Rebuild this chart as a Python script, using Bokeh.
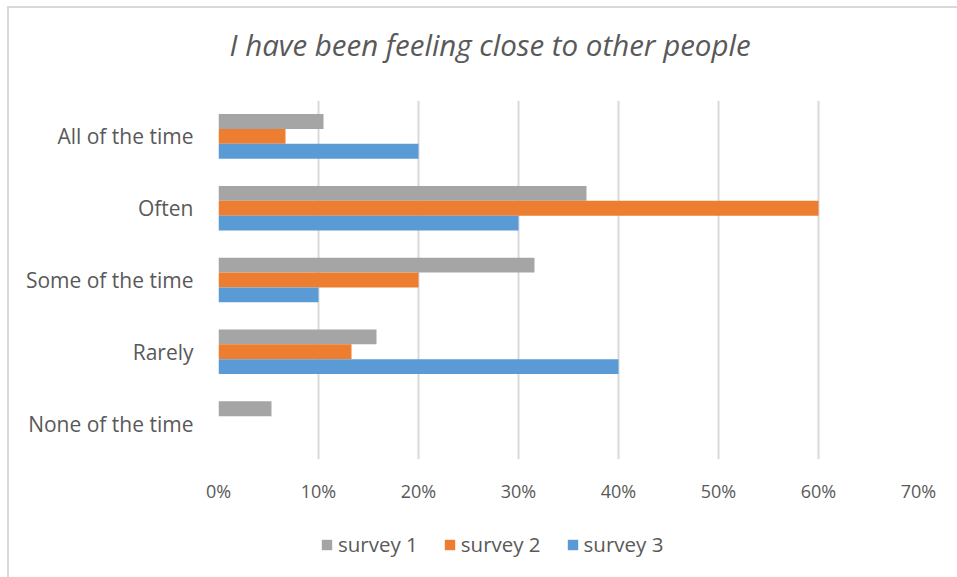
from bokeh.plotting import figure
from bokeh.layouts import column
from bokeh.models import (ColumnDataSource, Range1d, FixedTicker, NumeralTickFormatter,
                          Legend, LegendItem, Title)
from bokeh.transform import dodge
from bokeh.embed import file_html
from bokeh.resources import INLINE

categories = ["None of the time", "Rarely", "Some of the time", "Often", "All of the time"]
survey1 = [0.053, 0.158, 0.316, 0.368, 0.105]
survey2 = [0.0, 0.133, 0.20, 0.60, 0.067]
survey3 = [0.0, 0.40, 0.10, 0.30, 0.20]
x_ticks = [0, 0.1, 0.2, 0.3, 0.4, 0.5, 0.6, 0.7]
series_names = ["survey 1", "survey 2", "survey 3"]
colors = ["#A5A5A5", "#ED7D31", "#5B9BD5"]

FONT = "Open Sans"
TXT = "#595959"

src = ColumnDataSource(dict(pos=list(range(len(categories))), s1=survey1, s2=survey2, s3=survey3))
value_cols = ["s1", "s2", "s3"]

W = 948

# title strip
p0 = figure(width=W, height=92, output_backend="svg", toolbar_location=None,
            x_range=Range1d(0, 1), y_range=Range1d(0, 1),
            x_axis_type=None, y_axis_type=None,
            min_border_left=0, min_border_right=0, min_border_top=0, min_border_bottom=0)
p0.outline_line_color = None
p0.grid.grid_line_color = None
p0.background_fill_color = "white"
p0.border_fill_color = "white"
title = Title(text="I have been feeling close to other people", align="left", offset=11,
              vertical_align="bottom", standoff=27,
              text_font=FONT, text_font_style="italic", text_font_size="29.5px",
              text_color=TXT)
p0.add_layout(title, "above")

# main chart
p = figure(width=W, height=419, output_backend="svg", toolbar_location=None,
           x_range=Range1d(0, 0.7), y_range=Range1d(-0.5, len(categories) - 0.5),
           min_border_left=209, min_border_right=39, min_border_top=0, min_border_bottom=60)
p.outline_line_color = None
p.background_fill_color = "white"
p.border_fill_color = "white"

bw = 0.207
offsets = [bw, 0, -bw]
for col, off, c in zip(value_cols, offsets, colors):
    p.hbar(y=dodge("pos", off, range=p.y_range), right=col, left=0, height=bw, source=src,
           color=c, line_color=None)

p.xaxis.ticker = FixedTicker(ticks=x_ticks)
p.xaxis.formatter = NumeralTickFormatter(format="0%")
p.xaxis.axis_line_color = None
p.xaxis.major_tick_line_color = None
p.xaxis.minor_tick_line_color = None
p.xaxis.major_label_standoff = 13
p.xaxis.major_label_text_font = FONT
p.xaxis.major_label_text_font_size = "18px"
p.xaxis.major_label_text_color = TXT

p.yaxis.ticker = FixedTicker(ticks=list(range(len(categories))))
p.yaxis.major_label_overrides = {i: c for i, c in enumerate(categories)}
p.yaxis.axis_line_color = None
p.yaxis.major_tick_line_color = None
p.yaxis.minor_tick_line_color = None
p.yaxis.major_label_standoff = 19
p.yaxis.major_label_text_font = FONT
p.yaxis.major_label_text_font_size = "21px"
p.yaxis.major_label_text_color = TXT

p.ygrid.grid_line_color = None
p.xgrid.ticker = FixedTicker(ticks=x_ticks)
p.xgrid.grid_line_color = "#D9D9D9"
p.xgrid.grid_line_width = 2

# legend strip (same data, kept outside its visible ranges; only the legend shows)
p2 = figure(width=W, height=59, output_backend="svg", toolbar_location=None,
            x_range=Range1d(2, 3), y_range=Range1d(10, 11),
            x_axis_type=None, y_axis_type=None,
            min_border_left=0, min_border_right=0, min_border_top=0, min_border_bottom=0)
p2.outline_line_color = None
p2.grid.grid_line_color = None
p2.background_fill_color = "white"
p2.border_fill_color = "white"
items = []
for name, col, c in zip(series_names, value_cols, colors):
    rr = p2.hbar(y="pos", right=col, left=0, height=0.5, source=src, color=c, line_color=None)
    items.append(LegendItem(label=name, renderers=[rr]))

legend = Legend(items=items, orientation="horizontal", location=(102, 20),
                glyph_width=13, glyph_height=13, label_standoff=5, spacing=25,
                padding=0, margin=0, border_line_color=None, background_fill_alpha=0,
                label_text_font=FONT, label_text_font_size="20.5px", label_text_color=TXT)
p2.add_layout(legend, "center")

layout = column(p0, p, p2, spacing=0, margin=(6, 0, 0, 7),
                styles={"border-left": "2px solid #D9D9D9", "border-top": "2px solid #D9D9D9",
                        "border-right": "0", "border-bottom": "0"})

open("out.html", "w").write(file_html(layout, INLINE))
